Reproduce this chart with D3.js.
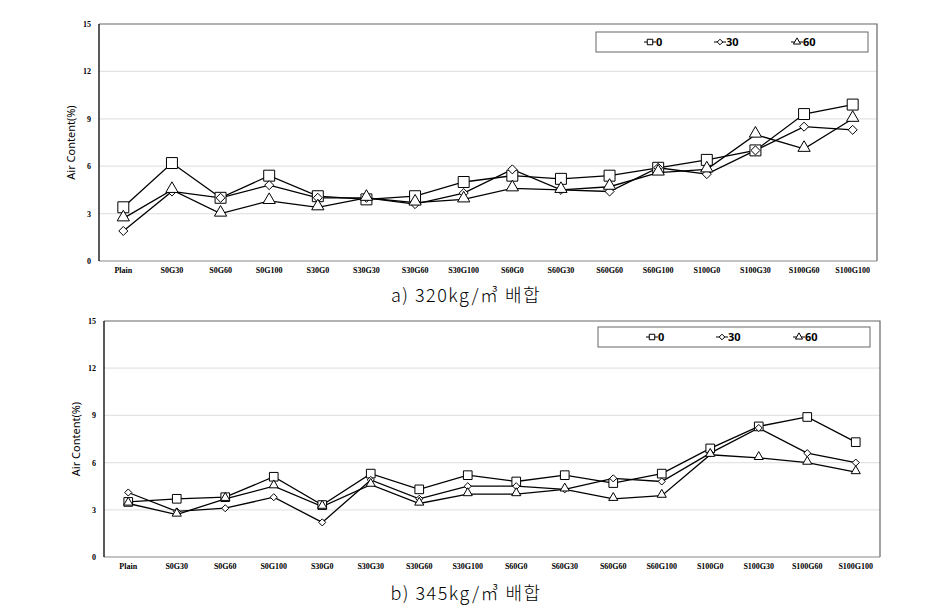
<!DOCTYPE html>
<html>
<head>
<meta charset="utf-8">
<script src="https://cdn.jsdelivr.net/npm/d3@7"></script>
<style>
  body { margin: 0; background: #fff; }
  svg { display: block; }
</style>
</head>
<body>
<svg id="chart" width="931" height="610"></svg>
<script>
// categories (mix names) shared by both charts
var categories = ["Plain", "S0G30", "S0G60", "S0G100", "S30G0", "S30G30", "S30G60", "S30G100",
                  "S60G0", "S60G30", "S60G60", "S60G100", "S100G0", "S100G30", "S100G60", "S100G100"];

var yTicks = [0, 3, 6, 9, 12, 15];
var seriesNames = ["0", "30", "60"];

// a) 320kg/m3
var airA0  = [3.4, 6.2, 4.0, 5.4, 4.1, 3.9, 4.1, 5.0, 5.4, 5.2, 5.4, 5.9, 6.4, 7.0, 9.3, 9.9];
var airA30 = [1.9, 4.4, 4.0, 4.8, 4.0, 4.0, 3.6, 4.3, 5.8, 4.5, 4.4, 5.9, 5.5, 7.0, 8.5, 8.3];
var airA60 = [2.7, 4.5, 3.0, 3.8, 3.4, 4.0, 3.7, 3.9, 4.6, 4.5, 4.7, 5.6, 5.8, 8.0, 7.1, 9.0];

// b) 345kg/m3
var airB0  = [3.5, 3.7, 3.8, 5.1, 3.3, 5.3, 4.3, 5.2, 4.8, 5.2, 4.7, 5.3, 6.9, 8.3, 8.9, 7.3];
var airB30 = [4.1, 2.9, 3.1, 3.8, 2.2, 4.9, 3.7, 4.5, 4.5, 4.3, 5.0, 4.8, 6.6, 8.2, 6.6, 6.0];
var airB60 = [3.4, 2.7, 3.7, 4.5, 3.2, 4.6, 3.4, 4.0, 4.0, 4.3, 3.7, 3.9, 6.5, 6.3, 6.0, 5.4];

var captions = ["a) 320kg/\u33A5 \uBC30\uD569", "b) 345kg/\u33A5 \uBC30\uD569"];

var svg = d3.select("#chart");

// square, diamond (square turned 45deg), triangle
var symbols = [d3.symbolSquare, d3.symbolDiamond2, d3.symbolTriangle];

function drawChart(box, series, markSizes, caption) {
    var g = svg.append("g");

    var x = d3.scaleBand()
        .domain(categories)
        .range([box.left, box.right]);

    var y = d3.scaleLinear()
        .domain([0, 15])
        .range([box.bottom, box.top]);

    // gridlines
    g.selectAll(".grid")
        .data(yTicks.slice(1, 5))
        .enter()
        .append("line")
        .attr("x1", box.left)
        .attr("x2", box.right)
        .attr("y1", function(d) { return y(d); })
        .attr("y2", function(d) { return y(d); })
        .attr("stroke", "#e4e4e4")
        .attr("stroke-width", 1.2);

    // frame: top and right gray, left black, bottom gray
    g.append("path")
        .attr("d", "M" + box.left + "," + box.top + "H" + box.right + "V" + box.bottom)
        .attr("fill", "none")
        .attr("stroke", "#666")
        .attr("stroke-width", 1.2);

    g.append("line")
        .attr("x1", box.left).attr("x2", box.right)
        .attr("y1", box.bottom).attr("y2", box.bottom)
        .attr("stroke", "#888")
        .attr("stroke-width", 1.2);

    g.append("line")
        .attr("x1", box.left).attr("x2", box.left)
        .attr("y1", box.top).attr("y2", box.bottom)
        .attr("stroke", "#000")
        .attr("stroke-width", 1.3);

    // y tick labels
    g.selectAll(".ytick")
        .data(yTicks)
        .enter()
        .append("text")
        .attr("x", box.left - 8)
        .attr("y", function(d) { return y(d) + 3; })
        .attr("text-anchor", "end")
        .style("font-family", "Liberation Serif")
        .style("font-weight", "bold")
        .style("font-size", "8px")
        .text(function(d) { return d; });

    // x tick labels
    g.selectAll(".xtick")
        .data(categories)
        .enter()
        .append("text")
        .attr("x", function(d) { return x(d) + x.bandwidth() / 2; })
        .attr("y", box.bottom + 12)
        .attr("text-anchor", "middle")
        .style("font-family", "Liberation Serif")
        .style("font-weight", "bold")
        .style("font-size", "8px")
        .text(function(d) { return d; });

    // y axis title
    g.append("text")
        .attr("transform", "translate(" + (box.left - 24) + "," + ((box.top + box.bottom) / 2) + ") rotate(-90)")
        .attr("text-anchor", "middle")
        .style("font-family", "Noto Sans")
        .style("font-size", "11px")
        .text("Air Content(%)");

    var line = d3.line()
        .x(function(d, i) { return x(categories[i]) + x.bandwidth() / 2; })
        .y(function(d) { return y(d); });

    series.forEach(function(values, k) {
        g.append("path")
            .datum(values)
            .attr("d", line)
            .attr("fill", "none")
            .attr("stroke", "#000")
            .attr("stroke-width", 1.3);
    });

    series.forEach(function(values, k) {
        var sym = d3.symbol().type(symbols[k]).size(markSizes[k]);
        g.selectAll(".m" + k)
            .data(values)
            .enter()
            .append("path")
            .attr("d", sym)
            .attr("transform", function(d, i) {
                var dy = k == 2 ? -1 : 0;
                return "translate(" + (x(categories[i]) + x.bandwidth() / 2) + "," + (y(d) + dy) + ")";
            })
            .attr("fill", "#fff")
            .attr("stroke", "#000")
            .attr("stroke-width", 1);
    });

    // legend
    var lg = g.append("g");
    lg.append("rect")
        .attr("x", box.legX)
        .attr("y", box.legY)
        .attr("width", 272)
        .attr("height", 20)
        .attr("fill", "#fff")
        .attr("stroke", "#666")
        .attr("stroke-width", 1);

    var legPos = [54, 124, 201];
    seriesNames.forEach(function(name, k) {
        var cx = box.legX + legPos[k];
        var cy = box.legY + 10;
        lg.append("line")
            .attr("x1", cx - 6).attr("x2", cx + 6)
            .attr("y1", cy).attr("y2", cy)
            .attr("stroke", "#000")
            .attr("stroke-width", 1);
        lg.append("path")
            .attr("d", d3.symbol().type(symbols[k]).size([30, 20, 22][k]))
            .attr("transform", "translate(" + cx + "," + cy + ")")
            .attr("fill", "#fff")
            .attr("stroke", "#000")
            .attr("stroke-width", 1);
        lg.append("text")
            .attr("x", cx + 6)
            .attr("y", cy + 4)
            .style("font-family", "Noto Sans")
            .style("font-weight", "bold")
            .style("font-size", "11px")
            .text(name);
    });

    // caption
    g.append("text")
        .attr("x", box.capX)
        .attr("y", box.capY)
        .attr("text-anchor", "middle")
        .style("font-family", "Noto Sans CJK KR")
        .style("font-weight", "300")
        .style("font-size", "18px")
        .style("letter-spacing", "1.5px")
        .text(caption);
}

drawChart({left: 99, right: 877, top: 24, bottom: 261, legX: 596, legY: 32, capX: 466, capY: 302},
          [airA0, airA30, airA60], [120, 52, 65], captions[0]);

drawChart({left: 104, right: 880, top: 321, bottom: 557, legX: 598, legY: 327, capX: 466, capY: 600},
          [airB0, airB30, airB60], [75, 32, 36], captions[1]);
</script>
</body>
</html>
